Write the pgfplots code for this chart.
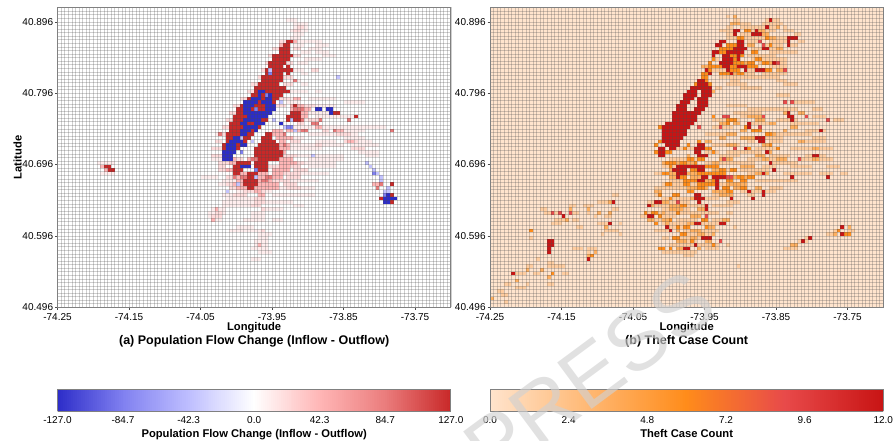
\documentclass[border=0pt]{standalone}
\usepackage{fontspec}
\setmainfont{Liberation Sans}
\usepackage{pgfplots}
\pgfplotsset{compat=1.18}
\definecolor{R3}{RGB}{200,40,40}\definecolor{R2}{RGB}{232,120,120}\definecolor{R1}{RGB}{255,182,182}\definecolor{R0}{RGB}{255,220,220}\definecolor{Rf}{RGB}{255,238,238}
\definecolor{B3}{RGB}{44,44,200}\definecolor{B2}{RGB}{128,128,240}\definecolor{B1}{RGB}{195,195,255}
\definecolor{XR}{RGB}{200,20,20}\definecolor{XL}{RGB}{232,74,74}\definecolor{O3}{RGB}{255,140,26}\definecolor{O2}{RGB}{255,176,96}\definecolor{O1}{RGB}{255,205,160}\definecolor{Base}{RGB}{255,228,205}
\pgfplotsset{
 colormap={flow}{rgb255=(44,44,200) rgb255=(128,128,240) rgb255=(190,190,255) rgb255=(255,255,255) rgb255=(255,182,182) rgb255=(235,125,125) rgb255=(200,40,40)},
 colormap={theft}{rgb255(0cm)=(255,228,205) rgb255(5cm)=(255,140,26) rgb255(7.5cm)=(232,74,74) rgb255(10cm)=(200,20,20)},
 panel/.style={scale only axis,width=393.3pt,height=299.8pt,
  xmin=-74.25,xmax=-73.70,ymin=40.496,ymax=40.916,
  axis on top,grid=minor,
  xtick={-74.25,-74.15,-74.05,-73.95,-73.85,-73.75},
  xticklabels={-74.25,-74.15,-74.05,-73.95,-73.85,-73.75},
  ytick={40.496,40.596,40.696,40.796,40.896},
  yticklabels={40.496,40.596,40.696,40.796,40.896},
  minor xtick={-74.25,-74.245,...,-73.70},
  minor ytick={40.496,40.501,...,40.917},
  minor grid style={draw=black!70,opacity=0.27,line width=0.5pt},
  minor tick length=0pt,major tick length=2.5pt,
  tick style={draw=black!70,line width=0.5pt},
  axis line style={draw=black!50,line width=1pt},
  tick align=outside,xtick pos=bottom,ytick pos=left,
  ticklabel style={font=\fontsize{10}{11}\selectfont},
  xticklabel style={yshift=0.2pt},
  yticklabel style={xshift=1.6pt},
  xlabel style={font=\fontsize{11.2}{12}\bfseries\selectfont,at={(0.5,-0.067)},anchor=center},
  ylabel style={font=\fontsize{11.2}{12}\bfseries\selectfont,at={(-0.1015,0.5)},anchor=center,rotate=0},
  title style={font=\fontsize{12.5}{13}\bfseries\selectfont,at={(0.5,-0.134)},anchor=center},
  colorbar horizontal,colorbar sampled,
  colorbar style={at={(0,-0.2735)},anchor=north west,scale only axis,width=393.3pt,height=22.2pt,samples=200,
   axis line style={draw=black!50,line width=1pt},
   major tick length=0pt,
   ticklabel style={font=\fontsize{10}{11}\selectfont},
   xticklabel style={yshift=-1.5pt},
   xlabel style={font=\fontsize{11.2}{12}\bfseries\selectfont,yshift=1pt}},
 }}
\newcommand\runs[2]{\addplot[draw=none,mark=none,forget plot,error bars/.cd,x dir=plus,x explicit,error mark=none,error bar style={draw=#1,solid,opacity=1,line width=3.6pt}] table[row sep=\\,header=false,x expr={-74.25+0.005*\thisrowno{0}},y expr={40.496+0.005*(\thisrowno{1}+0.5)},x error expr={0.005*\thisrowno{2}}]{#2\\};}
\begin{document}
\begin{tikzpicture}
\path[use as bounding box](0,0) rectangle (893pt,441pt);
\begin{axis}[panel,at={(57.5pt,133.7pt)},anchor=south west,xlabel={Longitude},ylabel={Latitude},title={(a) Population Flow Change (Inflow - Outflow)},
 colormap name=flow,point meta min=-127,point meta max=127,
 colorbar style={xtick={-127,-84.7,-42.3,0,42.3,84.7,127},xticklabels={-127.0,-84.7,-42.3,0.0,42.3,84.7,127.0},xlabel={Population Flow Change (Inflow - Outflow)}}]
\runs{Rf}{66 79 4\\66 78 4\\65 77 5\\66 76 3\\65 75 3\\67 74 4\\66 73 3\\70 72 4\\68 71 3\\72 71 4\\74 70 4\\69 69 5\\67 68 3\\66 66 3\\68 65 2\\65 63 3\\68 62 2\\64 60 6\\72 60 2\\62 58 5\\70 58 8\\80 57 6\\76 50 16\\78 49 8\\80 47 6\\80 46 8\\82 45 8\\84 43 6\\86 42 4\\70 48 8\\72 46 6\\64 47 5\\63 45 4\\64 44 10\\70 41 10\\70 39 8\\68 37 8\\65 35 8\\62 33 10\\44 48 3\\44 44 3\\43 41 3\\42 36 3\\45 34 4\\46 31 3\\47 30 10\\46 29 9\\46 28 8\\43 27 4\\42 26 5\\42 25 4\\43 24 3\\54 26 4\\54 25 4\\50 22 5\\48 21 9\\56 20 4\\56 19 3\\55 18 4\\55 17 4\\54 16 5\\56 15 4\\54 13 3\\60 24 3\\66 28 3\\40 36 2\\11 40 5\\12 37 4\\60 31 12\\58 29 8\\58 27 5\\66 42 14\\68 40 10\\66 54 10\\70 56 8\\72 53 12\\66 50 12\\64 57 4\\70 74 4\\64 80 3\\72 73 4\\50 32 10\\66 45 14\\66 52 6\\76 48 8\\52 24 6\\46 35 4}
\runs{R0}{66 77 2\\67 78 2\\71 66 2\\62 64 2\\78 48 4\\80 46 4\\82 44 4\\68 56 4\\70 52 3\\59 39 9\\62 37 6\\64 36 4\\52 32 6\\48 33 5\\49 31 4\\55 29 3\\55 30 3\\43 25 3\\44 26 2\\54 28 3\\57 21 1\\57 27 1\\72 45 2\\74 49 2\\50 41 2\\44 42 2\\45 39 2\\62 41 4\\63 39 5\\60 35 5\\67 51 2\\62 74 2\\60 72 2\\59 70 2\\58 68 2\\57 66 2\\56 64 2\\54 62 3\\53 60 2\\51 58 2\\49 56 2\\48 54 2\\47 52 2\\46 50 2\\45 48 2\\44 46 2\\43 44 3\\43 42 3\\45 40 5\\45 38 4\\66 72 2\\65 70 3\\64 68 2\\63 64 3\\63 62 3\\62 60 3\\62 58 3\\61 56 3\\47 36 3\\47 34 3\\64 33 4\\63 34 4\\65 40 4\\66 38 4\\63 42 4\\65 46 3}
\runs{R1}{62 40 5\\62 39 3\\60 38 5\\60 37 3\\60 36 3\\50 34 3\\50 33 5\\55 33 2\\55 32 2\\56 31 2\\56 17 1\\43 24 1\\44 27 1\\66 58 2\\65 56 4\\69 55 2\\68 54 2\\68 53 2\\71 51 2\\72 50 2\\64 49 3\\67 49 3\\64 47 2\\78 49 2\\81 46 2\\88 34 3\\90 34 1\\53 41 1\\54 37 1\\50 36 2\\13 38 1\\12 39 1\\62 42 1\\63 44 1\\61 61 1\\62 63 1\\65 74 2\\62 73 1\\51 37 8\\50 36 9\\50 35 10\\49 34 4\\56 34 6\\56 33 6\\60 41 6\\61 43 3\\62 44 3\\62 45 3\\62 46 2\\61 47 3\\60 48 3\\60 49 3\\48 40 3\\48 41 2\\47 38 2\\65 55 4}
\runs{R2}{71 51 2\\73 52 1\\81 52 1\\93 49 1\\77 49 1\\68 49 2\\89 33 1\\90 34 1\\66 55 2\\49 36 1\\45 48 1\\63 48 1\\66 63 1\\62 64 1\\58 36 2\\57 35 2\\51 36 2\\54 41 2\\63 45 1\\68 55 1\\68 52 1}
\runs{R3}{64 74 2\\63 73 2\\62 72 3\\62 71 3\\61 70 4\\65 70 1\\61 69 3\\64 69 1\\60 70 1\\60 69 1\\59 68 1\\59 67 1\\58 66 1\\58 65 1\\57 64 1\\57 63 1\\56 62 1\\60 68 4\\60 67 3\\64 67 1\\59 66 4\\63 66 3\\59 65 4\\64 65 1\\58 64 5\\58 63 5\\57 62 5\\55 61 7\\62 61 2\\62 60 2\\62 59 1\\64 60 1\\55 60 7\\54 59 8\\53 58 9\\52 57 9\\51 56 10\\66 56 1\\50 55 11\\50 54 10\\65 54 3\\49 53 10\\64 53 4\\49 52 10\\64 52 4\\48 51 10\\48 50 9\\48 49 8\\47 48 8\\58 48 2\\47 47 7\\57 47 3\\47 46 6\\57 46 4\\46 45 6\\56 45 6\\46 44 5\\55 44 7\\46 43 4\\55 43 8\\46 42 3\\55 42 8\\56 41 6\\50 40 4\\55 40 4\\49 39 5\\55 39 4\\49 38 3\\56 38 3\\49 37 2\\53 37 3\\53 36 3\\52 35 4\\52 34 4\\53 33 2\\76 54 3\\83 53 1\\93 34 1\\93 31 1\\93 29 1\\90 30 1\\13 39 2\\14 38 2}
\runs{B1}{59 66 1\\57 60 1\\62 57 1\\52 52 1\\60 52 1\\65 52 1\\63 50 2\\66 49 1\\51 47 1\\53 49 1\\54 46 1\\86 40 1\\87 39 1\\88 38 1\\89 37 1\\90 36 1\\90 35 1\\92 33 1\\91 32 1\\92 32 1\\55 36 1\\50 34 1\\47 32 1\\71 42 1\\78 64 1}
\runs{B2}{64 50 2\\59 65 1\\58 59 1\\55 55 1\\88 37 1\\91 31 1\\51 43 1\\55 38 1}
\runs{B3}{56 60 2\\56 59 1\\59 59 1\\54 58 3\\58 58 2\\52 57 4\\57 57 3\\52 56 3\\58 56 3\\52 55 2\\58 55 3\\52 54 8\\53 53 6\\52 52 5\\51 51 2\\55 51 3\\52 50 4\\51 49 3\\55 49 1\\51 48 2\\49 47 2\\48 46 4\\47 45 3\\51 45 2\\47 44 3\\46 43 4\\46 42 3\\46 41 3\\51 39 3\\62 51 1\\72 55 2\\75 55 2\\76 54 1\\91 30 4\\91 29 2\\92 31 1}
\end{axis}
\begin{axis}[panel,at={(490pt,133.7pt)},anchor=south west,xlabel={Longitude},title={(b) Theft Case Count},axis background/.style={fill=Base},
 colormap name=theft,point meta min=0,point meta max=12,
 colorbar style={xtick={0,2.4,4.8,7.2,9.6,12},xticklabels={0.0,2.4,4.8,7.2,9.6,12.0},xlabel={Theft Case Count}}]
\runs{O1}{68 80 2\\66 81 1\\77 80 4\\70 79 3\\76 79 6\\66 78 2\\70 78 4\\74 78 6\\82 78 1\\64 77 5\\72 77 8\\82 77 3\\66 76 2\\70 76 3\\76 75 8\\85 76 2\\72 75 4\\86 74 2\\72 74 4\\76 73 6\\84 73 2\\73 72 8\\84 71 2\\62 69 2\\72 70 8\\73 69 10\\75 68 8\\78 67 5\\76 65 7\\77 64 4\\80 63 3\\72 66 2\\70 65 4\\64 64 8\\67 63 3\\63 61 2\\66 56 6\\80 59 4\\72 55 14\\68 54 8\\90 55 3\\85 57 6\\70 53 4\\80 52 6\\90 53 4\\62 52 8\\72 51 6\\84 51 8\\96 52 3\\62 50 6\\88 49 6\\80 48 6\\60 48 6\\72 46 2\\88 46 6\\78 46 4\\92 44 4\\62 45 8\\74 44 6\\84 44 6\\64 42 6\\72 41 10\\86 41 10\\76 39 4\\84 39 6\\94 39 4\\66 38 2\\72 37 4\\82 37 8\\92 37 4\\98 37 2\\50 35 4\\74 35 6\\84 35 2\\68 34 4\\48 33 8\\78 33 4\\46 31 2\\62 31 4\\72 31 2\\44 29 3\\50 29 6\\66 29 4\\44 26 3\\48 27 8\\60 26 4\\66 26 2\\42 25 4\\48 25 4\\46 24 2\\52 24 6\\62 24 4\\50 22 4\\60 21 4\\68 22 1\\53 20 5\\60 20 2\\54 18 4\\66 17 1\\50 17 3\\60 16 4\\82 16 4\\88 19 1\\86 18 3\\94 20 3\\96 21 2\\100 21 2\\14 27 2\\22 28 2\\26 28 3\\30 29 3\\15 26 5\\23 26 2\\27 26 1\\18 24 4\\23 24 2\\29 25 1\\32 25 2\\17 23 3\\24 22 2\\30 23 3\\36 23 1\\32 21 4\\11 19 1\\31 20 1\\36 20 1\\23 16 3\\27 16 3\\13 13 1\\16 12 2\\27 15 1\\10 11 2\\16 11 5\\7 9 3\\12 9 2\\20 9 2\\4 6 2\\7 5 3\\2 4 2\\10 6 1\\3 3 2\\16 6 2\\4 1 1\\69 11 1\\34 27 2\\34 31 2\\66 75 10\\78 74 6\\66 72 2\\78 71 6\\62 66 4\\72 64 8\\66 62 6\\70 61 6\\82 62 4\\52 44 8\\60 43 4\\66 43 10\\50 41 8\\60 40 14\\48 39 8\\70 38 8\\46 37 14\\62 36 8\\80 35 6\\48 34 18\\70 32 10\\46 33 2\\48 30 16\\46 28 14\\62 28 6\\46 26 14\\48 23 16\\54 21 8\\46 21 4\\52 19 10\\48 19 2\\52 17 12\\48 15 10\\54 14 3\\76 47 6\\84 48 6\\90 47 4\\78 42 6\\88 42 6\\78 40 8}
\runs{O2}{68 81 1\\67 79 3\\75 77 2\\80 78 1\\74 76 4\\78 75 2\\72 73 2\\80 72 2\\66 73 2\\70 68 2\\78 68 1\\80 66 2\\68 65 2\\59 67 2\\62 60 1\\72 53 4\\82 54 1\\86 54 2\\78 51 2\\70 49 2\\64 51 2\\66 48 3\\76 45 2\\60 46 2\\55 42 1\\64 41 4\\78 43 1\\90 44 2\\52 40 3\\62 40 2\\70 39 4\\50 38 1\\55 37 4\\68 36 4\\74 37 4\\50 36 3\\60 35 2\\68 33 3\\46 32 2\\55 33 5\\62 32 5\\74 33 2\\56 30 1\\48 29 2\\66 31 2\\44 28 2\\50 27 4\\44 24 2\\48 26 1\\58 27 2\\65 24 2\\55 23 3\\49 23 1\\60 22 3\\52 21 1\\56 19 2\\62 20 1\\52 16 2\\58 16 1\\60 18 2\\84 17 2\\96 20 1\\100 22 1\\22 27 1\\27 27 1\\33 26 1\\21 24 1\\30 26 1\\32 22 1\\27 14 1\\29 15 1\\14 10 1\\16 8 1\\7 7 1\\0 2 1\\10 10 1\\33 29 2\\48 40 2\\54 40 4\\50 37 3\\56 36 3\\62 38 4\\66 34 4\\58 33 3\\64 31 3\\50 28 3\\48 24 3\\56 25 3\\52 18 3\\56 21 3\\58 20 2\\70 34 2\\74 42 3\\66 45 3\\70 47 2\\64 47 2\\74 52 3\\78 48 2\\84 50 2\\86 46 2\\80 41 3\\90 41 2\\76 41 2\\68 51 2\\72 47 2\\82 49 1}
\runs{O3}{62 69 1\\61 68 1\\60 66 2\\59 65 3\\59 64 2\\60 63 1\\57 62 1\\61 62 1\\63 71 1\\64 72 1\\69 75 2\\65 70 1\\70 70 1\\67 67 2\\66 66 3\\69 66 1\\72 68 2\\73 67 1\\71 77 2\\77 75 1\\78 73 1\\62 53 1\\47 50 1\\47 46 1\\46 45 1\\46 43 1\\49 43 2\\54 44 1\\55 45 1\\58 46 1\\60 44 2\\62 43 1\\66 52 3\\66 51 1\\71 50 1\\73 49 3\\77 48 2\\72 44 1\\78 45 1\\80 44 1\\55 41 2\\58 41 2\\50 39 1\\58 37 2\\62 37 3\\52 36 3\\67 38 2\\56 35 2\\60 34 3\\70 35 2\\66 32 2\\55 32 2\\51 31 2\\46 29 2\\50 30 1\\45 26 2\\52 26 1\\50 24 1\\54 22 2\\52 22 1\\60 22 1\\60 27 1\\56 18 1\\50 16 1\\62 17 1\\47 16 2\\99 20 1\\97 21 1\\100 20 1\\11 21 1\\16 18 1\\17 9 1\\27 13 1\\28 14 1\\22 26 1\\43 26 1\\46 23 1\\53 40 2\\57 40 1\\60 39 2\\54 34 2\\58 33 2\\64 38 2\\62 35 1\\69 36 2\\72 36 2\\48 37 2\\61 67 3\\66 73 3\\65 72 3\\64 71 4\\67 70 2\\68 69 2\\68 68 3\\64 67 1\\67 66 2\\64 65 4\\69 65 2\\73 71 2\\74 69 2\\76 68 2\\72 67 3\\77 66 2\\49 40 3\\56 38 2\\60 37 2\\54 35 3\\64 37 2\\66 35 2\\58 34 2\\65 33 2\\70 33 2\\68 38 1\\49 34 2\\62 39 2\\47 25 1\\51 19 2\\53 20 2\\59 24 2\\53 28 2\\47 31 1}
\runs{XL}{65 53 2\\82 57 1\\84 57 1\\58 50 1\\64 50 1\\75 50 1\\17 26 1\\19 26 1\\22 26 1\\82 66 1\\75 74 1\\76 73 1\\94 52 1\\86 41 1\\65 41 1\\68 44 1\\52 29 1\\66 36 2\\60 25 1\\64 18 1\\80 68 1\\76 53 1\\88 53 1}
\runs{XR}{64 74 2\\63 73 2\\62 71 2\\62 70 1\\58 63 2\\58 62 3\\56 61 6\\55 60 3\\59 60 3\\54 59 4\\59 59 3\\54 58 3\\58 58 3\\53 57 3\\58 57 3\\52 56 3\\58 56 3\\52 55 3\\57 55 3\\51 54 8\\51 53 7\\51 52 7\\49 51 8\\48 50 8\\48 49 7\\48 48 7\\48 47 6\\48 46 5\\49 45 4\\50 44 2\\47 44 2\\47 43 2\\47 42 2\\58 45 2\\57 44 3\\57 43 2\\58 42 3\\68 77 2\\68 76 1\\69 74 2\\69 73 2\\68 72 4\\68 71 3\\65 70 2\\69 70 1\\65 69 3\\64 68 3\\65 67 2\\70 67 2\\71 66 1\\74 66 3\\84 75 2\\83 75 1\\83 74 1\\83 73 1\\78 80 1\\77 78 1\\73 76 3\\74 77 1\\76 72 2\\79 68 1\\83 54 1\\83 53 2\\84 52 1\\72 51 1\\72 50 1\\74 47 3\\75 46 2\\92 49 1\\77 43 1\\71 44 1\\90 42 2\\52 39 3\\51 38 4\\52 37 3\\55 39 5\\58 38 2\\52 36 1\\59 36 2\\58 35 2\\62 36 4\\63 35 1\\63 34 1\\63 33 1\\57 31 2\\57 30 3\\58 29 1\\60 28 1\\60 27 1\\46 29 2\\44 28 1\\44 25 2\\57 23 2\\64 23 2\\49 22 1\\50 21 1\\59 19 3\\54 16 2\\57 17 1\\87 18 1\\89 19 1\\98 22 1\\98 20 1\\94 36 1\\84 36 1\\78 40 1\\79 38 1\\76 32 1\\76 31 1\\73 30 1\\67 30 1\\72 32 1\\76 37 1\\90 42 1\\16 18 2\\16 17 2\\16 16 1\\16 15 1\\6 9 1\\27 13 1\\34 29 1\\33 23 1\\20 25 1\\60 66 1\\61 65 1\\59 63 1\\66 71 2\\67 69 1\\69 69 1\\67 68 1\\69 67 1\\66 66 1\\67 65 1}
\end{axis}
\node[rotate=36.5,text=black!18,opacity=0.65,font=\fontsize{84}{90}\selectfont] at (590pt,66pt) {PRESS};
\end{tikzpicture}
\end{document}
